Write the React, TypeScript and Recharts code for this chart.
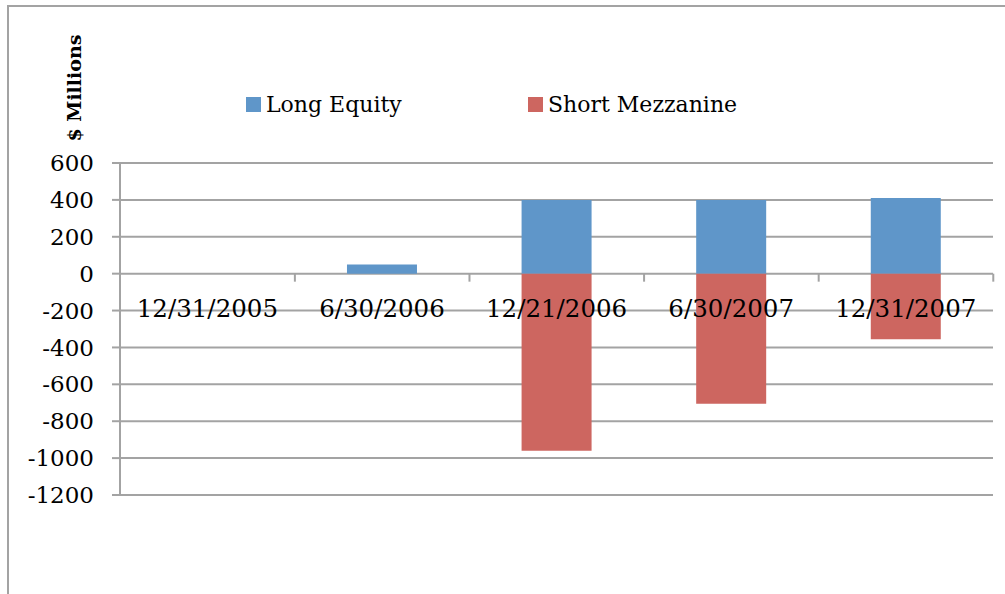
import React from "react";
import { BarChart, Bar, XAxis, YAxis, CartesianGrid, LabelList } from "recharts";

const CATEGORIES = ["12/31/2005", "6/30/2006", "12/21/2006", "6/30/2007", "12/31/2007"];
const LONG_EQUITY = [0, 50, 400, 400, 410];
const SHORT_MEZZANINE = [0, 0, -960, -705, -355];
const Y_TICKS = [-1200, -1000, -800, -600, -400, -200, 0, 200, 400, 600];

const SERIES = [
  { key: "long", name: "Long Equity", color: "#5F96C9" },
  { key: "short", name: "Short Mezzanine", color: "#CD6660" },
];

const GRID = "#a3a3a3";
const FONT = "'DejaVu Serif', serif";
const GAP = 0.3; // barCategoryGap, per side

// "axis" is a zero-value helper bar, only there to carry the date labels on the 0 line
const data = CATEGORIES.map((date, i) => ({
  date,
  axis: 0,
  long: LONG_EQUITY[i],
  short: SHORT_MEZZANINE[i],
}));

// draws the category divider tick on the 0 line, right edge of each band
function ZeroTick(p: any) {
  const band = p.width / (1 - 2 * GAP);
  const right = p.x + p.width + band * GAP;
  const y0 = Math.max(p.y, p.y + p.height);
  return <line x1={right} x2={right} y1={y0} y2={y0 + 8} stroke={GRID} strokeWidth={2} />;
}

function LegendBox() {
  return (
    <div
      style={{
        position: "absolute",
        left: 237,
        top: 85,
        display: "flex",
        alignItems: "center",
        fontFamily: FONT,
        fontSize: 22,
        color: "#000",
      }}
    >
      {SERIES.map((s) => (
        <div key={s.key} style={{ display: "flex", alignItems: "center", width: 282 }}>
          <span style={{ width: 15, height: 15, background: s.color, marginRight: 5, display: "inline-block" }} />
          <span>{s.name}</span>
        </div>
      ))}
    </div>
  );
}

function UnitLabel(props: any) {
  const vb = props.viewBox || { x: 0, y: 0 };
  const cx = vb.x + 65;
  const cy = vb.y - 75;
  return (
    <text
      x={cx}
      y={cy}
      transform={`rotate(-90, ${cx}, ${cy})`}
      textAnchor="middle"
      dominantBaseline="central"
      fontFamily={FONT}
      fontWeight="bold"
      fontSize={19}
      fill="#000"
    >
      $ Millions
    </text>
  );
}

export default function App() {
  return (
    <div
      style={{
        position: "absolute",
        left: 7,
        top: 5,
        width: 998,
        height: 589,
        borderLeft: `2px solid ${GRID}`,
        borderTop: `2px solid ${GRID}`,
        background: "#fff",
        overflow: "hidden",
      }}
    >
      <BarChart
        width={996}
        height={587}
        data={data}
        stackOffset="sign"
        barCategoryGap={`${GAP * 100}%`}
        margin={{ top: 156, right: 12, left: 0, bottom: 99 }}
      >
        <CartesianGrid vertical={false} stroke={GRID} strokeWidth={2} />
        <XAxis dataKey="date" hide />
        <YAxis
          width={111}
          domain={[-1200, 600]}
          ticks={Y_TICKS}
          interval={0}
          tickSize={8}
          tickMargin={18}
          axisLine={{ stroke: GRID, strokeWidth: 2 }}
          tickLine={{ stroke: GRID, strokeWidth: 2 }}
          tick={{ fill: "#000", fontSize: 23, fontFamily: FONT }}
          label={{ content: <UnitLabel /> }}
        />
        <Bar
          dataKey="axis"
          stackId="a"
          fill="transparent"
          minPointSize={1}
          shape={ZeroTick}
          isAnimationActive={false}
          legendType="none"
        >
          <LabelList
            dataKey="date"
            position="bottom"
            offset={26}
            fill="#000"
            fontSize={24.5}
            fontFamily={FONT}
          />
        </Bar>
        <Bar dataKey="long" name="Long Equity" stackId="a" fill={SERIES[0].color} isAnimationActive={false} />
        <Bar dataKey="short" name="Short Mezzanine" stackId="a" fill={SERIES[1].color} isAnimationActive={false} />
      </BarChart>
      <LegendBox />
    </div>
  );
}
